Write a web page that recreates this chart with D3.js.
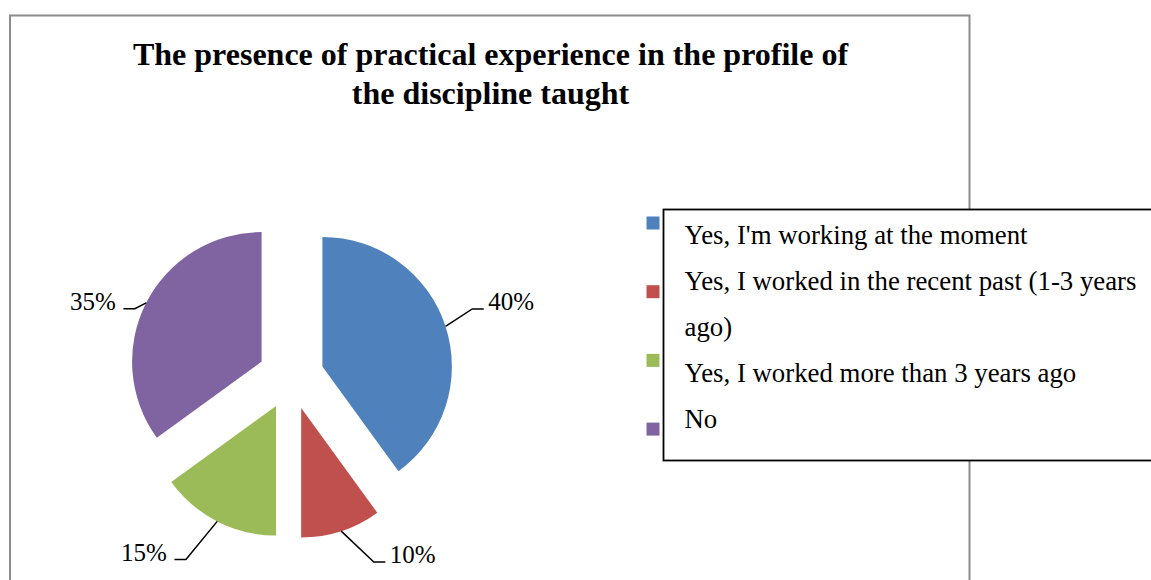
<!DOCTYPE html>
<html>
<head>
<meta charset="utf-8">
<style>
    body { margin: 0; background: #fff; }
    svg { display: block; }
    text { font-family: "Liberation Serif", "Times New Roman", serif; fill: #000; }
    .title { font-size: 32px; font-weight: bold; text-anchor: middle; }
    .pct { font-size: 25px; }
    .legend text { font-size: 26.8px; }
</style>
<script src="https://d3js.org/d3.v7.min.js"></script>
</head>
<body>
<svg id="chart" width="1151" height="580"></svg>
<script>
// data
const titleLines = ['The presence of practical experience in the profile of', 'the discipline taught'];
const categories = [
    "Yes, I'm working at the moment",
    'Yes, I worked in the recent past (1-3 years ago)',
    'Yes, I worked more than 3 years ago',
    'No'
];
const shares = [40, 10, 15, 35];
const colors = ['#4F81BD', '#C0504D', '#9BBB59', '#8064A2'];

// layout
const cx = 291, cy = 376.6, radius = 129.5, explode = 33;
// elbow of each leader line, relative to the arc midpoint of its slice
const elbows = [[26.7, -17.4], [32.6, 30.8], [-31.3, 38.2], [-11.3, 5.8]];

const svg = d3.select('#chart');

// outer frame of the chart area
svg.append('rect')
    .attr('x', 10).attr('y', 15.5)
    .attr('width', 959.5).attr('height', 600)
    .attr('fill', 'none')
    .attr('stroke', '#8c8c8c')
    .attr('stroke-width', 2);

svg.selectAll('text.title')
    .data(titleLines)
    .enter()
    .append('text')
    .attr('class', 'title')
    .attr('x', 490.5)
    .attr('y', (d, i) => 65 + i * 38.5)
    .text(d => d);

const pie = d3.pie().sort(null).value(d => d)(shares);
const arc = d3.arc().innerRadius(0).outerRadius(radius);
const mid = d => (d.startAngle + d.endAngle) / 2;

const slices = svg.append('g')
    .attr('transform', 'translate(' + cx + ',' + cy + ')')
    .selectAll('g')
    .data(pie)
    .enter()
    .append('g')
    .attr('transform', d => 'translate(' + (explode * Math.sin(mid(d))) + ',' + (-explode * Math.cos(mid(d))) + ')');

slices.append('path')
    .attr('d', arc)
    .attr('fill', (d, i) => colors[i]);

// leader lines + percentage labels
const total = d3.sum(shares);
slices.each(function(d, i) {
    const g = d3.select(this);
    const a = mid(d);
    const x0 = radius * Math.sin(a), y0 = -radius * Math.cos(a);
    const x1 = x0 + elbows[i][0], y1 = y0 + elbows[i][1];
    const right = Math.sin(a) > 0;
    const x2 = x1 + (right ? 11.5 : -11.5);
    g.append('polyline')
        .attr('points', [[x0, y0], [x1, y1], [x2, y1]].map(p => p.join(',')).join(' '))
        .attr('fill', 'none')
        .attr('stroke', '#000')
        .attr('stroke-width', 1.5);
    g.append('text')
        .attr('class', 'pct')
        .attr('x', x2 + (right ? 4.5 : -7.5))
        .attr('y', y1 + 1)
        .attr('text-anchor', right ? 'start' : 'end')
        .text(d3.format('.0%')(d.value / total));
});

// legend
const legend = svg.append('g').attr('class', 'legend');
const swatchY = d3.scaleLinear().domain([0, 1]).range([216.5, 285.2]);

legend.selectAll('rect.swatch')
    .data(categories)
    .enter()
    .append('rect')
    .attr('class', 'swatch')
    .attr('x', 646.5)
    .attr('y', (d, i) => swatchY(i))
    .attr('width', 13).attr('height', 13)
    .attr('fill', (d, i) => colors[i]);

legend.append('rect')
    .attr('x', 663.5).attr('y', 209.5)
    .attr('width', 520).attr('height', 251)
    .attr('fill', '#fff')
    .attr('stroke', '#000')
    .attr('stroke-width', 1.8);

// word-wrap the entries inside the box
const maxWidth = 462;
const lineY = d3.scaleLinear().domain([0, 1]).range([244, 290.1]);
let line = 0;
categories.forEach(function(label) {
    const words = label.split(' ');
    let current = [];
    let t = legend.append('text').attr('x', 684.5).attr('y', lineY(line));
    words.forEach(function(w) {
        current.push(w);
        t.text(current.join(' '));
        if (t.node().getComputedTextLength() > maxWidth && current.length > 1) {
            current.pop();
            t.text(current.join(' '));
            line++;
            current = [w];
            t = legend.append('text').attr('x', 684.5).attr('y', lineY(line)).text(w);
        }
    });
    line++;
});
</script>
</body>
</html>
